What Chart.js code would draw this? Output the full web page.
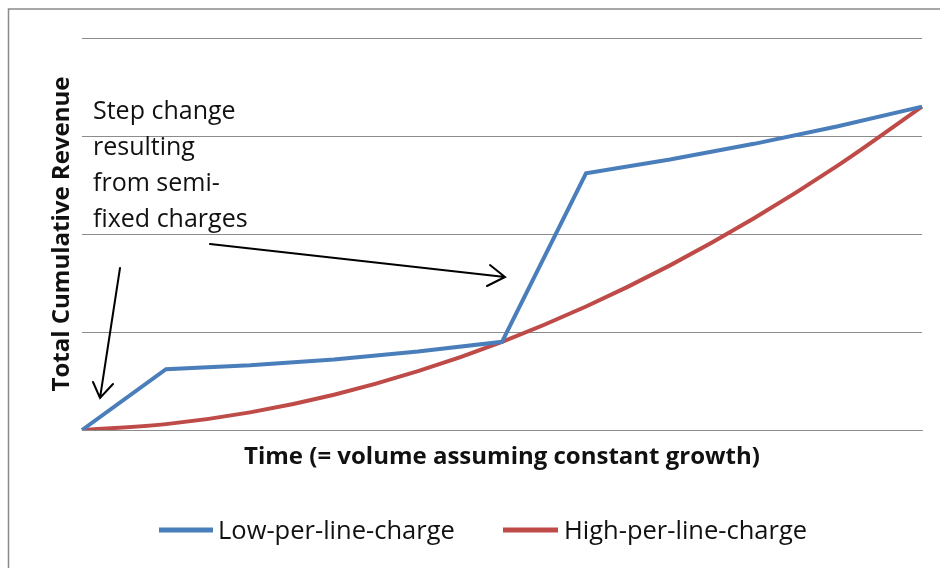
<!DOCTYPE html>
<html>
<head>
<meta charset="utf-8">
<script src="https://cdn.jsdelivr.net/npm/chart.js@4/dist/chart.umd.min.js"></script>
<style>
    body { margin: 0; background: #fff; }
    #caixa { width: 940px; height: 568px; }
</style>
</head>
<body>
<div id="caixa"><canvas id="grafico"></canvas></div>
<script>
const periods = ['0', '1', '2', '3', '4', '5', '6', '7', '8', '9', '10'];
const lowCharge = [0, 0.62, 0.66, 0.72, 0.80, 0.90, 2.62, 2.76, 2.92, 3.10, 3.30];
const highCharge = [0, 0.06, 0.18, 0.36, 0.60, 0.90, 1.26, 1.68, 2.16, 2.70, 3.30];
const seriesNames = ['Low-per-line-charge', 'High-per-line-charge'];
const seriesColors = ['#4a7ebb', '#be4b48'];
const noteLines = ['Step change', 'resulting', 'from semi-', 'fixed charges'];

const fonte = '"Open Sans", Lato, sans-serif';

// moldura, nota com setas e legenda
const extras = {
    id: 'extras',
    beforeDraw(chart) {
        const ctx = chart.ctx;
        ctx.save();
        ctx.fillStyle = '#fff';
        ctx.fillRect(0, 0, chart.width, chart.height);
        ctx.strokeStyle = '#8a8a8a';
        ctx.lineWidth = 1.5;
        ctx.strokeRect(8.5, 9, 1000, 1000);
        ctx.restore();
    },
    afterDraw(chart) {
        const ctx = chart.ctx;
        ctx.save();
        ctx.fillStyle = '#111';
        ctx.font = '25px ' + fonte;
        ctx.textBaseline = 'alphabetic';
        noteLines.forEach((t, i) => ctx.fillText(t, 93, 119 + i * 36));

        ctx.strokeStyle = '#000';
        ctx.lineWidth = 2;
        ctx.lineCap = 'round';
        const seta = (x1, y1, x2, y2, b1, b2) => {
            ctx.beginPath();
            ctx.moveTo(x1, y1);
            ctx.lineTo(x2, y2);
            ctx.moveTo(b1[0], b1[1]);
            ctx.lineTo(x2, y2);
            ctx.lineTo(b2[0], b2[1]);
            ctx.stroke();
        };
        seta(120, 268, 100, 398, [93, 382], [113, 384]);
        seta(210, 244, 505, 277, [490, 265], [487, 286]);

        const legX = [[159, 213, 218], [503, 558, 564]];
        ctx.font = '25.5px ' + fonte;
        chart.data.datasets.forEach((ds, i) => {
            const [a, b, tx] = legX[i];
            ctx.strokeStyle = ds.borderColor;
            ctx.lineWidth = 5;
            ctx.lineCap = 'butt';
            ctx.beginPath();
            ctx.moveTo(a, 530);
            ctx.lineTo(b, 530);
            ctx.stroke();
            ctx.fillStyle = '#111';
            ctx.textBaseline = 'middle';
            ctx.fillText(ds.label, tx, 532);
        });
        ctx.restore();
    }
};

new Chart(document.getElementById('grafico'), {
    type: 'line',
    data: {
        labels: periods,
        datasets: [{
            label: seriesNames[0],
            data: lowCharge,
            borderColor: seriesColors[0],
            borderWidth: 4,
            pointRadius: 0,
            tension: 0
        }, {
            label: seriesNames[1],
            data: highCharge,
            borderColor: seriesColors[1],
            borderWidth: 4,
            pointRadius: 0,
            tension: 0.35
        }]
    },
    options: {
        responsive: true,
        maintainAspectRatio: false,
        animation: false,
        layout: {
            padding: { left: 48, right: 18, top: 38, bottom: 96 }
        },
        plugins: {
            legend: { display: false },
            tooltip: { enabled: false }
        },
        scales: {
            x: {
                offset: false,
                grid: { display: false },
                border: { display: true, color: '#8c8c8c', width: 1 },
                ticks: { display: false },
                title: {
                    display: true,
                    text: 'Time (= volume assuming constant growth)',
                    color: '#111',
                    font: { family: fonte, size: 24, weight: 'bold' },
                    padding: 0
                },
                afterFit(scale) { scale.height = 42; }
            },
            y: {
                min: 0,
                max: 4,
                ticks: { display: false, stepSize: 1 },
                grid: { color: '#8c8c8c', drawTicks: false, lineWidth: 1 },
                border: { display: false },
                title: {
                    display: true,
                    text: 'Total Cumulative Revenue',
                    color: '#111',
                    font: { family: fonte, size: 24, weight: 'bold' },
                    padding: 0
                },
                afterFit(scale) { scale.width = 34; }
            }
        }
    },
    plugins: [extras]
});
</script>
</body>
</html>
